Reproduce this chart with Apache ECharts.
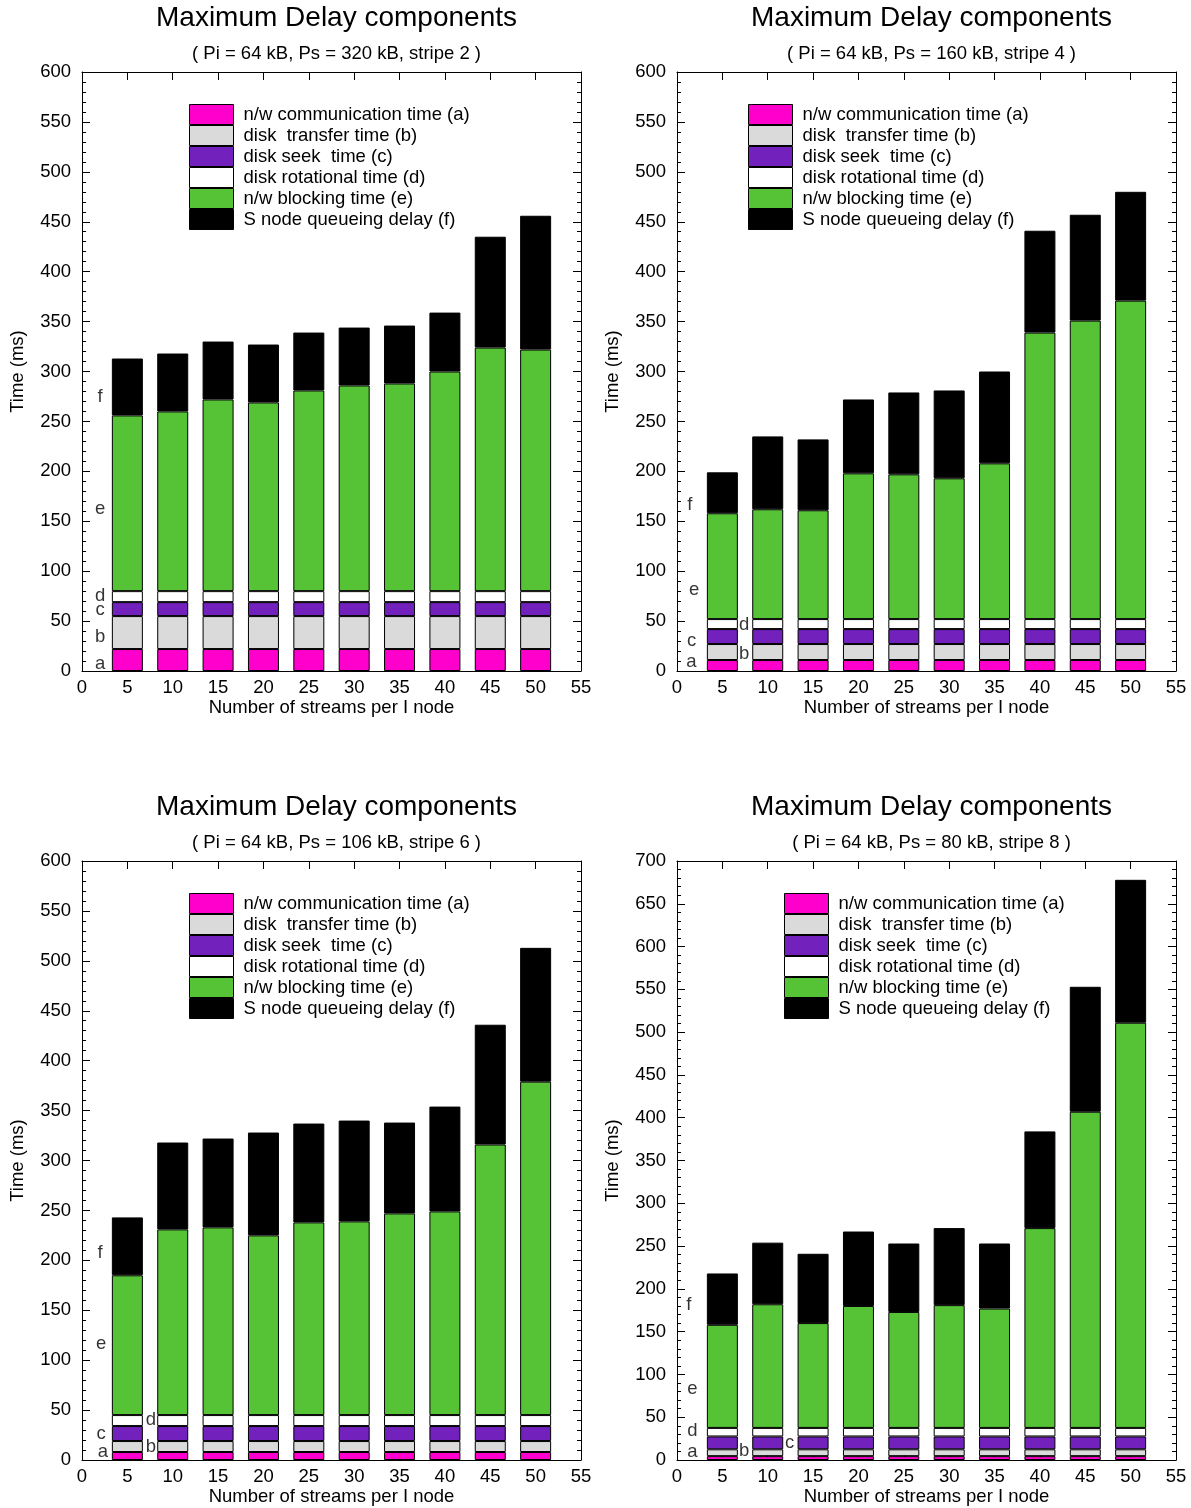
<!DOCTYPE html>
<html><head><meta charset="utf-8">
<script src="https://cdn.jsdelivr.net/npm/echarts@6/dist/echarts.min.js"></script>
<style>html,body{margin:0;padding:0;background:#fff}#c{width:1191px;height:1508px}</style>
</head><body><div id="c"></div>
<script>
// ---------- data ----------
const xTickLabels = ['0', '5', '10', '15', '20', '25', '30', '35', '40', '45', '50', '55'];
const streams = ['5', '10', '15', '20', '25', '30', '35', '40', '45', '50'];
const seriesNames = ['n/w communication time (a)', 'disk  transfer time (b)', 'disk seek  time (c)',
  'disk rotational time (d)', 'n/w blocking time (e)', 'S node queueing delay (f)'];
const titles = ['Maximum Delay components', 'Maximum Delay components', 'Maximum Delay components', 'Maximum Delay components'];
const subtitles = ['( Pi = 64 kB, Ps = 320 kB, stripe 2 )', '( Pi = 64 kB, Ps = 160 kB, stripe 4 )',
  '( Pi = 64 kB, Ps = 106 kB, stripe 6 )', '( Pi = 64 kB, Ps = 80 kB, stripe 8 )'];
const yMax = [600, 600, 600, 700];

// chart 1 (stripe 2)
const c1a = [22, 22, 22, 22, 22, 22, 22, 22, 22, 22];
const c1b = [33, 33, 33, 33, 33, 33, 33, 33, 33, 33];
const c1c = [14, 14, 14, 14, 14, 14, 14, 14, 14, 14];
const c1d = [11, 11, 11, 11, 11, 11, 11, 11, 11, 11];
const c1e = [176, 180, 192, 189, 201, 206, 208, 220, 244, 242];
const c1f = [57, 58, 58, 58, 58, 58, 58, 59, 111, 134];
// chart 2 (stripe 4)
const c2a = [11, 11, 11, 11, 11, 11, 11, 11, 11, 11];
const c2b = [16, 16, 16, 16, 16, 16, 16, 16, 16, 16];
const c2c = [15, 15, 15, 15, 15, 15, 15, 15, 15, 15];
const c2d = [10, 10, 10, 10, 10, 10, 10, 10, 10, 10];
const c2e = [106, 110, 109, 146, 145, 141, 156, 287, 299, 319];
const c2f = [41, 73, 71, 74, 82, 88, 92, 102, 106, 109];
// chart 3 (stripe 6)
const c3a = [8, 8, 8, 8, 8, 8, 8, 8, 8, 8];
const c3b = [11, 11, 11, 11, 11, 11, 11, 11, 11, 11];
const c3c = [15, 15, 15, 15, 15, 15, 15, 15, 15, 15];
const c3d = [11, 11, 11, 11, 11, 11, 11, 11, 11, 11];
const c3e = [140, 186, 188, 180, 193, 194, 202, 204, 271, 334];
const c3f = [58, 87, 89, 103, 99, 101, 91, 105, 120, 134];
// chart 4 (stripe 8)
const c4a = [4.5, 4.5, 4.5, 4.5, 4.5, 4.5, 4.5, 4.5, 4.5, 4.5];
const c4b = [8, 8, 8, 8, 8, 8, 8, 8, 8, 8];
const c4c = [15, 15, 15, 15, 15, 15, 15, 15, 15, 15];
const c4d = [10, 10, 10, 10, 10, 10, 10, 10, 10, 10];
const c4e = [120.5, 144.5, 122.5, 142.5, 135.5, 143.5, 139.5, 233.5, 369.5, 473.5];
const c4f = [60, 72, 81, 87, 80, 90, 76, 113, 146, 167];

const chartSeries = [
  [c1a, c1b, c1c, c1d, c1e, c1f],
  [c2a, c2b, c2c, c2d, c2e, c2f],
  [c3a, c3b, c3c, c3d, c3e, c3f],
  [c4a, c4b, c4c, c4d, c4e, c4f]
];

// in-plot segment letters: [x, y, text]
const letters1 = [[2.0, 7, 'a'], [2.0, 34, 'b'], [2.0, 61, 'c'], [2.0, 75, 'd'], [2.0, 162, 'e'], [2.0, 275, 'f']];
const letters2 = [[1.6, 9, 'a'], [7.4, 17, 'b'], [1.6, 30, 'c'], [7.4, 46, 'd'], [1.9, 81, 'e'], [1.4, 166, 'f']];
const letters3 = [[2.3, 8, 'a'], [7.6, 13, 'b'], [2.1, 26, 'c'], [7.6, 40, 'd'], [2.1, 116, 'e'], [2.0, 207, 'f']];
const letters4 = [[1.7, 9, 'a'], [7.4, 10.5, 'b'], [12.4, 20, 'c'], [1.7, 34, 'd'], [1.7, 83, 'e'], [1.3, 181, 'f']];
const letters = [letters1, letters2, letters3, letters4];

// ---------- styling / layout ----------
const colors = ['#ff00cc', '#dadada', '#7221bc', '#ffffff', '#56c236', '#000000'];
const FONT = 'Liberation Sans';
const FS = 18.5;
const grids = [
  {left: 82, top: 72}, {left: 677, top: 72}, {left: 82, top: 861}, {left: 677, top: 861}
];
const legendPos = [{left: 189, top: 104}, {left: 748, top: 104}, {left: 189, top: 893}, {left: 784, top: 893}];
const W = 499, H = 599;

const option = {
  animation: false,
  backgroundColor: '#fff',
  title: [], legend: [], grid: [], xAxis: [], yAxis: [], series: []
};

grids.forEach((g, i) => {
  const cx = g.left + W / 2;
  option.title.push({text: titles[i], left: cx, top: g.top - 73, textAlign: 'center',
    textStyle: {fontFamily: FONT, fontSize: 28, fontWeight: 'normal', color: '#000'}});
  option.title.push({text: subtitles[i], left: cx, top: g.top - 33, textAlign: 'center',
    textStyle: {fontFamily: FONT, fontSize: FS, fontWeight: 'normal', color: '#000'}});
  option.grid.push({left: g.left, top: g.top, width: W, height: H, containLabel: false});
  const axLine = {show: true, onZero: false, lineStyle: {color: '#000', width: 1}};
  const tick = {show: true, inside: true, length: 8, lineStyle: {color: '#000'}};
  // bottom x (category, bars)
  option.xAxis.push({type: 'category', gridIndex: i, data: xTickLabels, boundaryGap: false, position: 'bottom',
    axisLine: axLine, axisTick: Object.assign({interval: 0}, tick),
    axisLabel: {interval: 0, fontFamily: FONT, fontSize: FS, color: '#000', margin: 7},
    splitLine: {show: false},
    name: 'Number of streams per I node', nameLocation: 'middle', nameGap: 27,
    nameTextStyle: {fontFamily: FONT, fontSize: FS, color: '#000'}});
  // top x (value, ticks + annotation letters)
  option.xAxis.push({type: 'value', gridIndex: i, min: 0, max: 55, interval: 5, position: 'top',
    axisLine: axLine, axisTick: tick, axisLabel: {show: false}, splitLine: {show: false}});
  // left y
  option.yAxis.push({type: 'value', gridIndex: i, min: 0, max: yMax[i], interval: 50, position: 'left',
    axisLine: axLine, axisTick: tick,
    minorTick: {show: true, splitNumber: 5, length: 4, lineStyle: {color: '#000'}},
    axisLabel: {fontFamily: FONT, fontSize: FS, color: '#000', margin: 11},
    splitLine: {show: false},
    name: 'Time (ms)', nameLocation: 'middle', nameGap: 55,
    nameTextStyle: {fontFamily: FONT, fontSize: FS, color: '#000'}});
  // right y
  option.yAxis.push({type: 'value', gridIndex: i, min: 0, max: yMax[i], interval: 50, position: 'right',
    axisLine: axLine, axisTick: tick,
    minorTick: {show: true, splitNumber: 5, length: 4, lineStyle: {color: '#000'}},
    axisLabel: {show: false}, splitLine: {show: false}});

  chartSeries[i].forEach((vals, k) => {
    option.series.push({
      type: 'bar', name: seriesNames[k], xAxisIndex: 2 * i, yAxisIndex: 2 * i,
      stack: 'g' + i, barWidth: 31,
      itemStyle: {color: colors[k], borderColor: '#000', borderWidth: 1},
      data: xTickLabels.map(c => {
        const j = streams.indexOf(c);
        return j < 0 ? '-' : vals[j];
      })
    });
  });
  option.series.push({
    type: 'scatter', xAxisIndex: 2 * i + 1, yAxisIndex: 2 * i, symbolSize: 1,
    itemStyle: {color: 'rgba(0,0,0,0)'}, silent: true,
    label: {show: true, position: 'inside', formatter: p => p.data[2],
      fontFamily: FONT, fontSize: FS, color: '#000'},
    data: letters[i]
  });
  option.legend.push({
    left: legendPos[i].left, top: legendPos[i].top, orient: 'vertical', padding: 0,
    itemWidth: 44, itemHeight: 20, itemGap: 0, icon: 'rect', selectedMode: false,
    itemStyle: {borderColor: '#000', borderWidth: 1},
    textStyle: {fontFamily: FONT, fontSize: FS, color: '#000', lineHeight: 20, padding: [0, 0, 0, 5]},
    data: seriesNames
  });
});

const chart = echarts.init(document.getElementById('c'), null, {renderer: 'canvas'});
chart.setOption(option);
</script>
</body></html>
